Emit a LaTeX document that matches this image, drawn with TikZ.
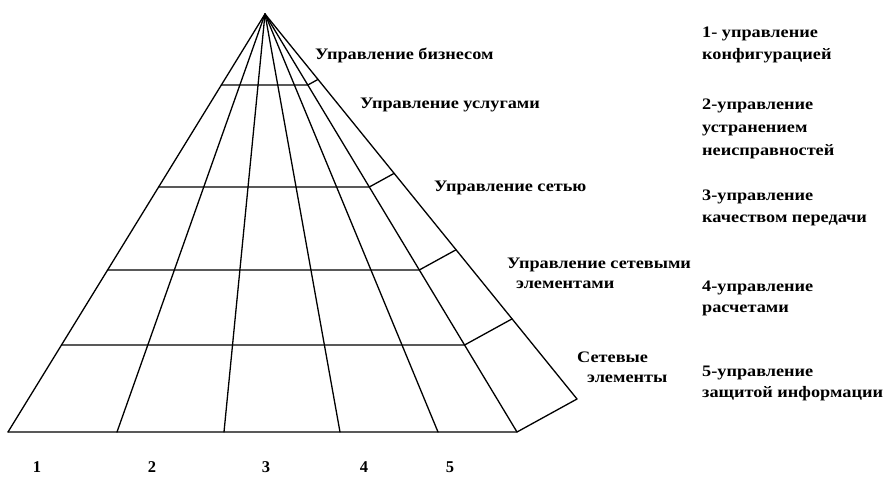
\documentclass[tikz,border=0pt]{standalone}
\usepackage{fontspec}
\setmainfont{Liberation Serif}
\usepackage{graphicx}
\usetikzlibrary{calc}
\newcommand\wx[1]{\scalebox{1.14}[1]{#1}}
\begin{document}
\begin{tikzpicture}[x=1pt,y=-1pt,
  edge/.style={line width=1.3pt, line join=round, line cap=round},
  lbl/.style={inner sep=0pt, anchor=base west, font=\fontsize{16}{19}\selectfont\bfseries},
  num/.style={inner sep=0pt, anchor=base, font=\fontsize{16.5}{19}\selectfont\bfseries}]
\useasboundingbox[fill=white] (0,0) rectangle (888,492);
% pyramid
\coordinate (A) at (265,14);
\coordinate (B0) at (8,432);
\coordinate (B1) at (117,432);
\coordinate (B2) at (224,432);
\coordinate (B3) at (340,432);
\coordinate (B4) at (438,432);
\coordinate (B5) at (517,432);
\coordinate (B6) at (577,399);
\foreach \i in {0,...,6} \draw[edge] (A) -- (B\i);
\foreach \t in {0.1699,0.4139,0.6124,0.7919,1}
  \draw[edge] ($(A)!\t!(B0)$) -- ($(A)!\t!(B5)$) -- ($(A)!\t!(B6)$);
% level labels
\node[lbl] (l1) at (315,60) {\wx{Управление бизнесом}};
\node[lbl] (l2) at (360,109) {\wx{Управление услугами}};
\node[lbl] (l3) at (434,191) {\wx{Управление сетью}};
\node[lbl] (l4a) at (507,268) {\wx{Управление сетевыми}};
\node[lbl] (l4b) at (516,288) {\wx{элементами}};
\node[lbl] (l5a) at (577,362) {\wx{Сетевые}};
\node[lbl] (l5b) at (587,382) {\wx{элементы}};
% functions
\node[lbl] (f1a) at (702,38) {\wx{1- управление}};
\node[lbl] (f1b) at (702,60) {\wx{конфигурацией}};
\node[lbl] (f2a) at (702,110) {\wx{2-управление}};
\node[lbl] (f2b) at (702,132) {\wx{устранением}};
\node[lbl] (f2c) at (702,155) {\wx{неисправностей}};
\node[lbl] (f3a) at (702,200) {\wx{3-управление}};
\node[lbl] (f3b) at (702,222) {\wx{качеством передачи}};
\node[lbl] (f4a) at (702,291) {\wx{4-управление}};
\node[lbl] (f4b) at (702,312) {\wx{расчетами}};
\node[lbl] (f5a) at (702,376) {\wx{5-управление}};
\node[lbl] (f5b) at (702,397) {\wx{защитой информации}};
% column numbers
\node[num] (n1) at (37,472) {1};
\node[num] (n2) at (152,472) {2};
\node[num] (n3) at (266,472) {3};
\node[num] (n4) at (364,472) {4};
\node[num] (n5) at (450,472) {5};
\end{tikzpicture}
\end{document}
